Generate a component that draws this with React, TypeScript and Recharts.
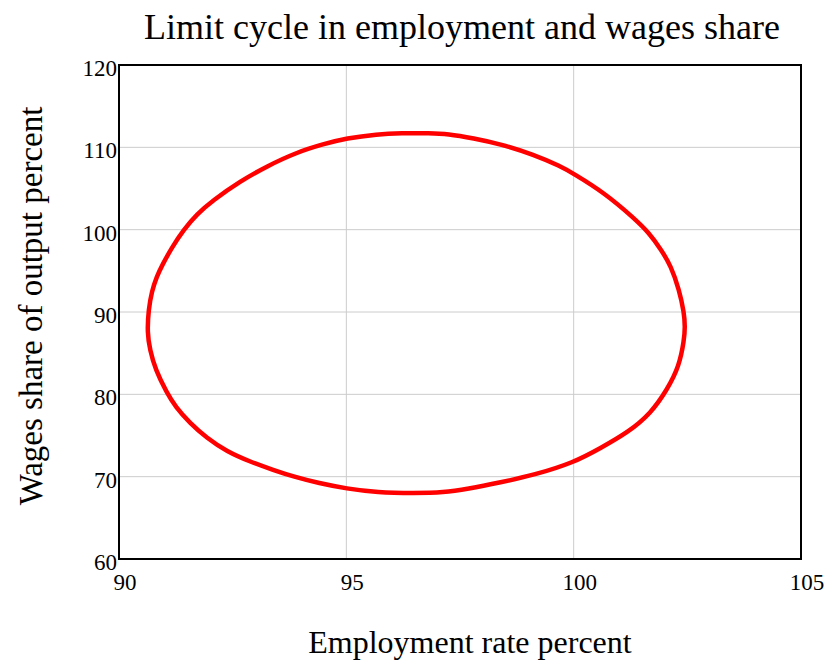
import React from "react";
import {
  CartesianGrid,
  Line,
  LineChart,
  ReferenceArea,
  XAxis,
  YAxis,
} from "recharts";

const employment = [
  90.62, 90.65, 90.72, 90.83, 90.95, 91.16, 91.42, 91.72, 92.05, 92.67, 93.25,
  93.91, 94.5, 95.0, 95.68, 96.2, 96.85, 97.22, 97.8, 98.39, 99.13, 99.71,
  100.0, 100.67, 101.33, 101.66, 101.92, 102.14, 102.32, 102.43, 102.45, 102.43,
  102.32, 102.06, 101.7, 101.2, 100.6, 100.0, 99.13, 98.39, 97.66, 97.14,
  96.5, 95.68, 95.0, 94.4, 93.84, 93.4, 92.89, 92.37, 91.93, 91.56, 91.24,
  91.05, 90.8, 90.68,
];
const wagesShare = [
  87.5, 90.3, 92.5, 94.3, 95.7, 97.8, 100.0, 101.9, 103.5, 105.9, 107.7, 109.4,
  110.4, 111.1, 111.6, 111.72, 111.72, 111.65, 111.1, 110.4, 109.1, 107.7,
  106.8, 104.5, 101.4, 99.6, 97.6, 95.6, 92.7, 89.9, 88.2, 86.6, 83.4, 80.6,
  77.7, 75.4, 73.5, 71.7, 70.2, 69.3, 68.5, 68.07, 68.0, 68.07, 68.55, 69.2,
  70.0, 70.8, 71.8, 73.05, 74.7, 76.5, 78.5, 80.2, 83.0, 85.4,
];

const xTicks = [90, 95, 100, 105];
const yTicks = [60, 70, 80, 90, 100, 110, 120];

const cycle = employment.map((x, i) => ({ x, y: wagesShare[i] }));

const font = "'Liberation Serif', 'Times New Roman', serif";
const xTickStyle = { fill: "#000", fontSize: 23, fontFamily: font, dx: 6 };
const yTickStyle = { fill: "#000", fontSize: 23, fontFamily: font, dy: 3 };

export default function App() {
  return (
    <div style={{ position: "fixed", left: 0, top: 0, width: 828, height: 660, background: "#fff" }}>
      <LineChart
        width={828}
        height={660}
        data={cycle}
        margin={{ top: 65, right: 27, bottom: 61, left: 79 }}
      >
        <CartesianGrid stroke="#cccccc" strokeWidth={1} />
        <XAxis
          type="number"
          dataKey="x"
          domain={[90, 105]}
          ticks={xTicks}
          height={40}
          tickLine={false}
          tickSize={0}
          tickMargin={15}
          axisLine={false}
          tick={xTickStyle}
          interval={0}
        />
        <YAxis
          type="number"
          domain={[60, 120]}
          ticks={yTicks}
          width={40}
          tickLine={false}
          tickSize={0}
          tickMargin={2}
          axisLine={false}
          tick={yTickStyle}
          interval={0}
        />
        <Line
          type="basisClosed"
          dataKey="y"
          stroke="#ff0000"
          strokeWidth={4.5}
          dot={false}
          isAnimationActive={false}
        />
        <ReferenceArea
          x1={90}
          x2={105}
          y1={60}
          y2={120}
          fill="none"
          fillOpacity={0}
          stroke="#000"
          strokeWidth={2}
          strokeOpacity={1}
          ifOverflow="visible"
        />
      </LineChart>
      <svg
        width={828}
        height={660}
        style={{ position: "absolute", left: 0, top: 0, pointerEvents: "none" }}
      >
        <text x={462} y={39} textAnchor="middle" fontFamily={font} fontSize={36} fill="#000">
          Limit cycle in employment and wages share
        </text>
        <text
          x={0}
          y={0}
          transform="translate(42 306) rotate(-90)"
          textAnchor="middle"
          fontFamily={font}
          fontSize={33}
          fill="#000"
        >
          Wages share of output percent
        </text>
        <text x={470} y={653} textAnchor="middle" fontFamily={font} fontSize={32} fill="#000">
          Employment rate percent
        </text>
      </svg>
    </div>
  );
}
